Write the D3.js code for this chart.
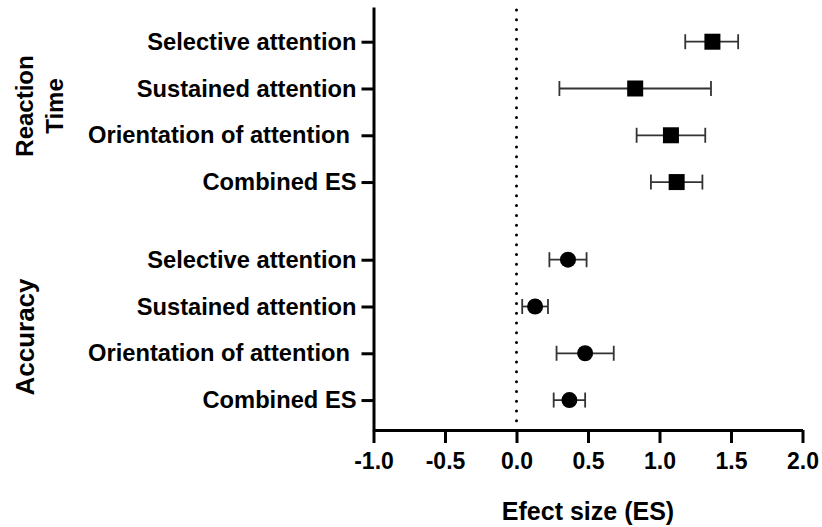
<!DOCTYPE html>
<html>
<head>
<meta charset="utf-8">
<script src="https://cdn.jsdelivr.net/npm/d3@7"></script>
<style>
  body { margin: 0; background: #fff; }
  text { font-family: "Liberation Sans", Arial, sans-serif; font-weight: bold; }
</style>
</head>
<body>
<div id="chart"></div>
<script>
// forest plot data
var labels = ["Selective attention", "Sustained attention", "Orientation of attention ", "Combined ES",
              "Selective attention", "Sustained attention", "Orientation of attention ", "Combined ES"];
var groups = ["RT", "RT", "RT", "RT", "ACC", "ACC", "ACC", "ACC"];
var es    = [1.37, 0.83, 1.08, 1.12, 0.36, 0.13, 0.48, 0.37];
var ciLow = [1.18, 0.30, 0.84, 0.94, 0.23, 0.04, 0.28, 0.26];
var ciHigh = [1.55, 1.36, 1.32, 1.30, 0.49, 0.22, 0.68, 0.48];
var xTicks = [-1.0, -0.5, 0.0, 0.5, 1.0, 1.5, 2.0];

var width = 822, height = 527;

var svg = d3.select("#chart").append("svg")
  .attr("width", width)
  .attr("height", height);

var rows = labels.map(function(d, i) {
  return {
    label: d, group: groups[i], es: es[i], lo: ciLow[i], hi: ciHigh[i],
    pos: i + 1 + (i >= 4 ? 0.66 : 0)
  };
});

var xScale = d3.scaleLinear().domain([-1, 2]).range([373.5, 802.5]);
var yScale = d3.scaleLinear().domain([0.258, 9.3]).range([7, 430]);

// x axis
var xAxis = d3.axisBottom(xScale)
  .tickValues(xTicks)
  .tickSize(13)
  .tickSizeOuter(0)
  .tickPadding(10)
  .tickFormat(function(d) { return d.toFixed(1); });

var gx = svg.append("g")
  .attr("class", "x-axis")
  .attr("transform", "translate(0," + 430 + ")")
  .call(xAxis);
gx.selectAll("path, line").attr("stroke", "#000").attr("stroke-width", 3);
gx.selectAll("text").style("font-size", "23px").attr("fill", "#000");

// y axis with category labels
var yAxis = d3.axisLeft(yScale)
  .tickValues(rows.map(function(d) { return d.pos; }))
  .tickSize(12)
  .tickSizeOuter(0)
  .tickPadding(5)
  .tickFormat(function(d, i) { return rows[i].label; });

var gy = svg.append("g")
  .attr("class", "y-axis")
  .attr("transform", "translate(" + 373.5 + ",0)")
  .call(yAxis);
gy.selectAll("path, line").attr("stroke", "#000").attr("stroke-width", 3);
gy.selectAll("text").style("font-size", "23.7px").style("white-space", "pre").attr("fill", "#000");

// zero line
svg.append("line")
  .attr("x1", xScale(0)).attr("x2", xScale(0))
  .attr("y1", 10).attr("y2", 421)
  .attr("stroke", "#000")
  .attr("stroke-width", 3)
  .attr("stroke-linecap", "round")
  .attr("stroke-dasharray", "0,9.78");

// error bars
var bars = svg.selectAll(".ci")
  .data(rows)
  .enter()
  .append("g")
  .attr("class", "ci");

bars.append("line")
  .attr("x1", function(d) { return xScale(d.lo); })
  .attr("x2", function(d) { return xScale(d.hi); })
  .attr("y1", function(d) { return yScale(d.pos); })
  .attr("y2", function(d) { return yScale(d.pos); });

bars.append("line")
  .attr("x1", function(d) { return xScale(d.lo); })
  .attr("x2", function(d) { return xScale(d.lo); })
  .attr("y1", function(d) { return yScale(d.pos) - 7.5; })
  .attr("y2", function(d) { return yScale(d.pos) + 7.5; });

bars.append("line")
  .attr("x1", function(d) { return xScale(d.hi); })
  .attr("x2", function(d) { return xScale(d.hi); })
  .attr("y1", function(d) { return yScale(d.pos) - 7.5; })
  .attr("y2", function(d) { return yScale(d.pos) + 7.5; });

bars.selectAll("line").attr("stroke", "#333").attr("stroke-width", 1.8);

// markers: squares for reaction time, circles for accuracy
svg.selectAll(".sq")
  .data(rows.filter(function(d) { return d.group === "RT"; }))
  .enter()
  .append("rect")
  .attr("class", "sq")
  .attr("x", function(d) { return xScale(d.es) - 8; })
  .attr("y", function(d) { return yScale(d.pos) - 8; })
  .attr("width", 16)
  .attr("height", 16)
  .attr("fill", "#000");

svg.selectAll(".dot")
  .data(rows.filter(function(d) { return d.group === "ACC"; }))
  .enter()
  .append("circle")
  .attr("class", "dot")
  .attr("cx", function(d) { return xScale(d.es); })
  .attr("cy", function(d) { return yScale(d.pos); })
  .attr("r", 8)
  .attr("fill", "#000");

// group labels
svg.append("text")
  .attr("transform", "translate(33,106) rotate(-90)")
  .attr("text-anchor", "middle")
  .style("font-size", "24px")
  .text("Reaction");
svg.append("text")
  .attr("transform", "translate(63,106) rotate(-90)")
  .attr("text-anchor", "middle")
  .style("font-size", "24px")
  .text("Time");
svg.append("text")
  .attr("transform", "translate(34,337) rotate(-90)")
  .attr("text-anchor", "middle")
  .style("font-size", "26px")
  .text("Accuracy");

// x title
svg.append("text")
  .attr("x", (xScale(-1) + xScale(2)) / 2)
  .attr("y", 520)
  .attr("text-anchor", "middle")
  .style("font-size", "25px")
  .text("Efect size (ES)");
</script>
</body>
</html>
